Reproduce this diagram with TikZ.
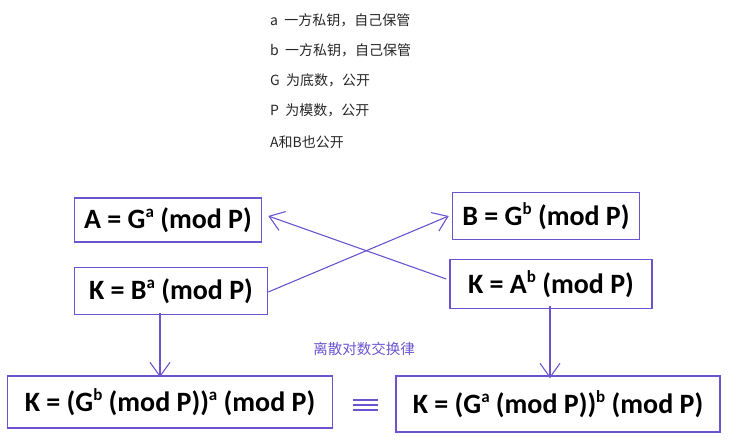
\documentclass[tikz,border=0pt]{standalone}
\usepackage{fontspec}
\setmainfont{Noto Sans CJK SC}
\newfontfamily\boxfnt{Carlito}
\newfontfamily\cjkfnt{Noto Sans CJK SC}
\usetikzlibrary{arrows.meta}
\definecolor{pur}{RGB}{108,84,208}
\tikzset{
  fbox/.style={draw=pur, line width=1.5pt, inner sep=0pt, font=\boxfnt\bfseries\fontsize{28}{30}\selectfont, text=black},
  note/.style={anchor=west, font=\cjkfnt\fontsize{14}{16}\selectfont, text=black!85, inner sep=0pt},
  arr/.style={draw=pur, line width=1.1pt, -{Straight Barb[length=14pt,width=20pt,line width=1.1pt]}},
}
\newcommand{\sps}[1]{\raisebox{0.4em}{\fontsize{17}{17}\selectfont #1}}
\begin{document}
\begin{tikzpicture}[x=1pt,y=-1pt]
\useasboundingbox (0,0) rectangle (736,444);
% notes
\node[note] (n1) at (270,20) {a\ \ 一方私钥，自己保管};
\node[note] (n2) at (270,50) {b\ \ 一方私钥，自己保管};
\node[note] (n3) at (270,80) {G\ \ 为底数，公开};
\node[note] (n4) at (270,110) {P\ \ 为模数，公开};
\node[note] (n5) at (270,142) {A和B也公开};
% boxes
\node[fbox, minimum width=187pt, minimum height=44pt] (ag) at (168,220) {A = G\sps{a} (mod P)};
\node[fbox, minimum width=193pt, minimum height=47pt] (kba) at (171,291) {K = B\sps{a} (mod P)};
\node[fbox, minimum width=187pt, minimum height=47pt] (bg) at (546,216) {B = G\sps{b} (mod P)};
\node[fbox, minimum width=202pt, minimum height=49pt] (kab) at (551,284) {K = A\sps{b} (mod P)};
\node[fbox, minimum width=325pt, minimum height=52pt] (bl) at (170,402) {K = (G\sps{b} (mod P))\sps{a} (mod P)};
\node[fbox, minimum width=324pt, minimum height=56pt] (br) at (558,404) {K = (G\sps{a} (mod P))\sps{b} (mod P)};
% arrows
\draw[arr] ([yshift=-1pt]kba.east) -- ([xshift=-3pt]bg.west);
\draw[arr] ([xshift=-3pt,yshift=5pt]kab.west) -- ([xshift=6pt,yshift=4pt]ag.east);
\draw[arr] ([xshift=-11pt,yshift=2pt]kba.south) -- ([xshift=-10pt,yshift=-2pt]bl.north);
\draw[arr] ([xshift=-1pt,yshift=3pt]kab.south) -- ([xshift=-8pt,yshift=-3pt]br.north);
% label
\node[font=\cjkfnt\fontsize{14.5}{16}\selectfont, text=pur] (lab) at (364,349) {离散对数交换律};
% equivalence sign
\draw[pur, line width=1.1pt] (353,400) -- (378,400) (353,405) -- (378,405) (353,410) -- (378,410);
\end{tikzpicture}
\end{document}
